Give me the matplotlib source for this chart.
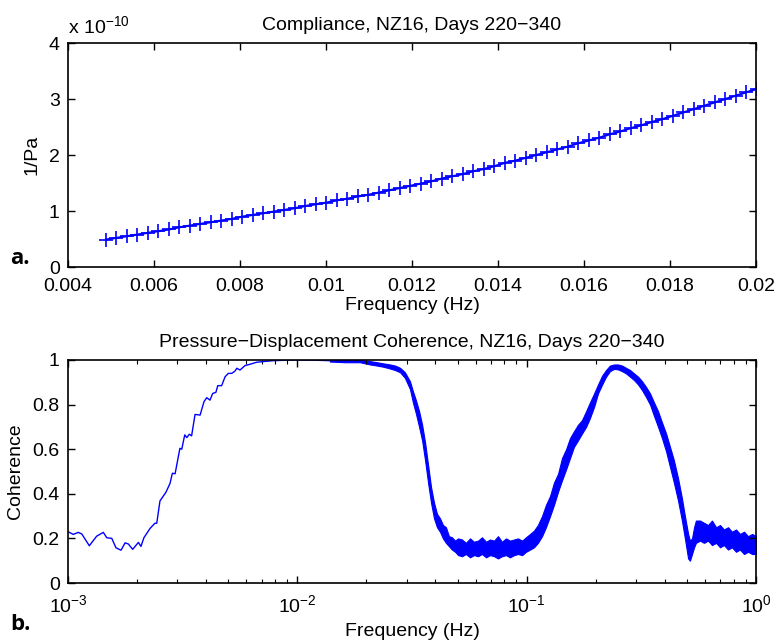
import numpy as np
import matplotlib.pyplot as plt
from matplotlib.ticker import FuncFormatter, LogLocator, NullFormatter

plt.rcParams['font.family'] = ['Liberation Sans', 'DejaVu Sans']
plt.rcParams['font.size'] = 14
plt.rcParams['mathtext.fontset'] = 'custom'
plt.rcParams['mathtext.rm'] = 'Liberation Sans'
plt.rcParams['axes.linewidth'] = 1.2

# Compliance estimates on the FFT bins (1/4096 Hz spacing), in units of 1e-10 1/Pa
compliance_freq = np.arange(20, 83) / 4096.0
compliance_e10 = [
    0.49, 0.52, 0.55, 0.58, 0.61, 0.64, 0.67, 0.71, 0.74, 0.77,
    0.80, 0.83, 0.86, 0.90, 0.93, 0.96, 0.99, 1.02, 1.05, 1.09,
    1.12, 1.15, 1.19, 1.22, 1.26, 1.29, 1.33, 1.37, 1.41, 1.45,
    1.49, 1.53, 1.58, 1.62, 1.66, 1.71, 1.75, 1.80, 1.86, 1.90,
    1.95, 2.00, 2.05, 2.10, 2.15, 2.21, 2.26, 2.31, 2.37, 2.42,
    2.48, 2.53, 2.59, 2.64, 2.70, 2.76, 2.82, 2.88, 2.94, 3.00,
    3.06, 3.12, 3.18,
]

# Coherence below ~0.014 Hz (log10 of frequency in Hz)
coh_logf = [
    -3.000, -2.977, -2.955, -2.940, -2.907, -2.875, -2.846, -2.831, -2.809, -2.791,
    -2.769, -2.751, -2.737, -2.718, -2.693, -2.682, -2.669, -2.642, -2.621, -2.613,
    -2.599, -2.573, -2.555, -2.545, -2.533, -2.512, -2.504, -2.491, -2.482, -2.471,
    -2.461, -2.446, -2.424, -2.407, -2.395, -2.381, -2.369, -2.355, -2.347, -2.330,
    -2.315, -2.301, -2.286, -2.272, -2.264, -2.250, -2.228, -2.206, -2.177, -2.148,
    -2.105, -2.046, -2.003, -1.923, -1.858,
]
coh_value = [
    0.230, 0.218, 0.227, 0.220, 0.167, 0.210, 0.227, 0.203, 0.200, 0.158,
    0.147, 0.180, 0.175, 0.151, 0.182, 0.164, 0.203, 0.245, 0.268, 0.268,
    0.368, 0.407, 0.447, 0.492, 0.490, 0.604, 0.600, 0.664, 0.652, 0.667,
    0.660, 0.756, 0.753, 0.813, 0.831, 0.820, 0.850, 0.855, 0.885, 0.885,
    0.925, 0.940, 0.940, 0.950, 0.963, 0.955, 0.975, 0.981, 0.990, 0.993,
    0.997, 0.999, 1.000, 0.999, 0.997,
]

# Above ~0.014 Hz the estimate is noisy: upper and lower envelope of the scatter
band_logf = [
    -1.858, -1.792, -1.727, -1.705, -1.683, -1.653, -1.626, -1.596, -1.574, -1.552,
    -1.531, -1.509, -1.496, -1.483, -1.469, -1.456, -1.443, -1.430, -1.417, -1.404,
    -1.391, -1.378, -1.365, -1.352, -1.339, -1.326, -1.312, -1.299, -1.282, -1.265,
    -1.247, -1.230, -1.212, -1.195, -1.177, -1.160, -1.142, -1.125, -1.108, -1.090,
    -1.073, -1.055, -1.038, -1.020, -1.003, -0.985, -0.968, -0.951, -0.933, -0.916,
    -0.898, -0.881, -0.863, -0.846, -0.828, -0.811, -0.794, -0.776, -0.759, -0.741,
    -0.724, -0.706, -0.689, -0.671, -0.654, -0.637, -0.619, -0.602, -0.584, -0.567,
    -0.549, -0.532, -0.514, -0.497, -0.480, -0.462, -0.445, -0.427, -0.410, -0.392,
    -0.375, -0.358, -0.340, -0.323, -0.310, -0.296, -0.288, -0.279, -0.270, -0.262,
    -0.244, -0.227, -0.209, -0.192, -0.174, -0.157, -0.140, -0.122, -0.105, -0.087,
    -0.070, -0.052, -0.035, -0.017, 0.000,
]
band_upper = [
    1.000, 1.000, 1.000, 0.998, 0.995, 0.990, 0.985, 0.980, 0.975, 0.965,
    0.945, 0.905, 0.860, 0.820, 0.770, 0.710, 0.630, 0.530, 0.430, 0.360,
    0.310, 0.290, 0.260, 0.250, 0.210, 0.205, 0.190, 0.200, 0.195, 0.180,
    0.200, 0.185, 0.190, 0.205, 0.185, 0.195, 0.190, 0.210, 0.185, 0.200,
    0.190, 0.195, 0.200, 0.190, 0.205, 0.220, 0.235, 0.260, 0.300, 0.350,
    0.390, 0.450, 0.490, 0.560, 0.600, 0.650, 0.680, 0.710, 0.730, 0.770,
    0.810, 0.850, 0.890, 0.930, 0.955, 0.975, 0.980, 0.980, 0.975, 0.965,
    0.955, 0.940, 0.925, 0.905, 0.880, 0.850, 0.810, 0.770, 0.720, 0.670,
    0.610, 0.550, 0.470, 0.380, 0.300, 0.220, 0.190, 0.200, 0.250, 0.280,
    0.280, 0.270, 0.260, 0.280, 0.250, 0.260, 0.240, 0.250, 0.230, 0.240,
    0.220, 0.230, 0.210, 0.220, 0.210,
]
band_lower = [
    0.993, 0.990, 0.990, 0.985, 0.980, 0.975, 0.970, 0.962, 0.955, 0.945,
    0.920, 0.870, 0.810, 0.760, 0.700, 0.640, 0.550, 0.450, 0.360, 0.290,
    0.250, 0.230, 0.200, 0.180, 0.165, 0.150, 0.140, 0.125, 0.120, 0.130,
    0.115, 0.125, 0.120, 0.130, 0.115, 0.125, 0.120, 0.110, 0.120, 0.125,
    0.115, 0.125, 0.130, 0.125, 0.140, 0.150, 0.160, 0.180, 0.210, 0.250,
    0.300, 0.350, 0.410, 0.460, 0.510, 0.560, 0.610, 0.640, 0.670, 0.700,
    0.740, 0.790, 0.850, 0.890, 0.925, 0.950, 0.960, 0.958, 0.950, 0.940,
    0.925, 0.910, 0.890, 0.865, 0.835, 0.800, 0.750, 0.700, 0.650, 0.590,
    0.520, 0.450, 0.370, 0.280, 0.200, 0.110, 0.100, 0.130, 0.160, 0.180,
    0.190, 0.180, 0.190, 0.170, 0.180, 0.160, 0.170, 0.150, 0.160, 0.140,
    0.150, 0.130, 0.140, 0.130, 0.130,
]

blue = (0, 0, 1)
fig = plt.figure(figsize=(7.76, 6.4), dpi=100)

# a. compliance
ax1 = fig.add_axes([68 / 776, 1 - 267 / 640, 688 / 776, 224 / 640])
ax1.plot(compliance_freq, np.array(compliance_e10) * 1e-10, '-+', color=blue,
         lw=1.5, ms=10, mew=1.2)
ax1.set_xlim(0.004, 0.02)
ax1.set_ylim(0, 4e-10)
ax1.set_xticks(np.arange(0.004, 0.0201, 0.002))
ax1.set_yticks(np.arange(0, 4.1e-10, 1e-10))
ax1.xaxis.set_major_formatter(FuncFormatter(lambda v, p: '%g' % round(v, 4)))
ax1.yaxis.set_major_formatter(FuncFormatter(lambda v, p: '%g' % round(v / 1e-10, 3)))
ax1.set_xlabel('Frequency (Hz)', labelpad=1)
ax1.set_ylabel('1/Pa', labelpad=6)
ax1.set_title('Compliance, NZ16, Days 220\u2212340', fontsize=14, pad=9)
ax1.text(0.0, 1.02, r'x 10$^{-10}$', transform=ax1.transAxes, ha='left', va='bottom')

# b. coherence
ax2 = fig.add_axes([68 / 776, 1 - 583 / 640, 688 / 776, 223 / 640])
ax2.plot(10 ** np.array(coh_logf), coh_value, color=blue, lw=1.0)
ax2.fill_between(10 ** np.array(band_logf), band_lower, band_upper,
                 color=blue, lw=0.8, edgecolor=blue)
ax2.set_xscale('log')
ax2.set_xlim(1e-3, 1)
ax2.set_ylim(0, 1)
ax2.set_yticks(np.arange(0, 1.01, 0.2))
ax2.yaxis.set_major_formatter(FuncFormatter(lambda v, p: '%g' % round(v, 2)))
ax2.xaxis.set_minor_locator(LogLocator(base=10, subs=np.arange(2, 10)))
ax2.xaxis.set_minor_formatter(NullFormatter())
ax2.set_xlabel('Frequency (Hz)', labelpad=5)
ax2.set_ylabel('Coherence', labelpad=6)
ax2.set_title('Pressure\u2212Displacement Coherence, NZ16, Days 220\u2212340',
              fontsize=14, pad=9)

for ax in (ax1, ax2):
    ax.tick_params(which='both', direction='in', top=True, right=True)
    ax.tick_params(which='major', length=5, width=1.0, labelsize=14)
    ax.tick_params(which='minor', length=3, width=0.8)
    ax.tick_params(axis='x', which='major', pad=8)
    ax.tick_params(axis='y', which='major', pad=6)

fig.text(10 / 776, 1 - 259 / 640, 'a.', fontsize=16, fontweight='bold',
         family='Open Sans', va='center')
fig.text(10 / 776, 1 - 624 / 640, 'b.', fontsize=16, fontweight='bold',
         family='Open Sans', va='center')

fig.savefig('out.png', dpi=100)
